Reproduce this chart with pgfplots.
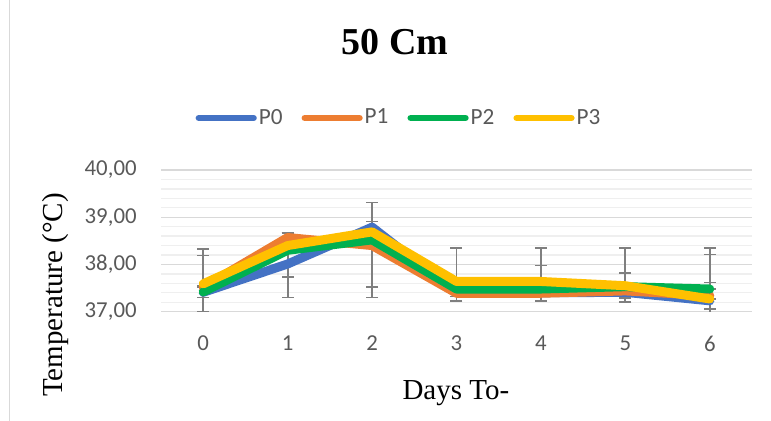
\documentclass[border=0pt]{standalone}
\usepackage{pgfplots}
\usepackage{pgfplotstable}
\pgfplotsset{compat=1.18}
\usepackage{fontspec}
\setmainfont{Carlito}
\newfontfamily\seriffont{Liberation Serif}
\definecolor{cP0}{HTML}{4472C4}
\definecolor{cP1}{HTML}{ED7D31}
\definecolor{cP2}{HTML}{00B050}
\definecolor{cP3}{HTML}{FFC000}
\definecolor{ebgray}{HTML}{7F7F7F}
\definecolor{gridmajor}{HTML}{D9D9D9}
\definecolor{gridminor}{HTML}{EFEFEF}
\definecolor{ticklabel}{HTML}{595959}

\pgfplotstableread{
x y ep em
0 37.41 0.92 0.92
1 38.01 0.66 0.71
2 38.79 0 0
3 37.40 0 0.18
4 37.40 0 0.18
5 37.41 0 0.21
6 37.23 0.39 0.30
}\Pzero
\pgfplotstableread{
x y ep em
0 37.52 0 0
1 38.57 0 0
2 38.40 0.91 1.10
3 37.39 0 0.07
4 37.39 0 0.07
5 37.44 0.18 0.15
6 37.34 0.87 0.28
}\Pone
\pgfplotstableread{
x y ep em
0 37.42 0.13 0.12
1 38.30 0 0.57
2 38.52 0.39 1.00
3 37.48 0 0
4 37.48 0.50 0
5 37.53 0.29 0
6 37.48 0 0
}\Ptwo
\pgfplotstableread{
x y ep em
0 37.59 0.60 0.60
1 38.40 0.27 0
2 38.69 0 0
3 37.64 0.71 0
4 37.64 0.71 0
5 37.55 0.80 0
6 37.27 1.08 0
}\Pthree

\pgfplotsset{
  ebar/.style={draw=none, mark=none, forget plot,
    error bars/.cd, y dir=both, y explicit, error mark=-,
    error bar style={draw=ebgray, line width=0.9pt, solid},
    error mark options={draw=ebgray, line width=0.9pt, mark size=3pt, rotate=90}},
  series/.style={#1, line width=4.5pt, line join=round, line cap=round, mark=none},
}

\begin{document}
\begin{tikzpicture}
\useasboundingbox (0,0) rectangle (385.5pt,210.5pt);
\draw[gridmajor, line width=0.7pt] (4.6pt,0) -- (4.6pt,210.5pt);
\begin{axis}[
  scale only axis,
  width=295.5pt, height=70.85pt,
  at={(80.5pt,54.65pt)}, anchor=south west,
  xmin=-0.5, xmax=6.5, ymin=37, ymax=40,
  xtick={0,1,2,3,4,5,6},
  ytick={37,38,39,40},
  minor y tick num=4,
  ymajorgrids, yminorgrids,
  major grid style={draw=gridmajor, line width=0.7pt},
  minor grid style={draw=gridminor, line width=0.7pt},
  axis line style={draw=none},
  tick style={draw=none},
  major tick length=0pt, minor tick length=0pt,
  tick label style={font=\fontsize{11.4}{13}\selectfont, text=ticklabel},
  yticklabel style={anchor=east, inner sep=0pt, xshift=-12pt,
    /pgf/number format/.cd, fixed, fixed zerofill, precision=2, use comma, assume math mode=true},
  xticklabel style={anchor=north, inner sep=0pt, yshift=-12pt,
    /pgf/number format/assume math mode=true},
  title={\seriffont\bfseries 50 Cm},
  title style={at={(rel axis cs:0.396,1.819)}, anchor=center, inner sep=0pt, font=\fontsize{19}{22}\selectfont},
  ylabel={\seriffont Temperature (°C)},
  ylabel style={at={(rel axis cs:-0.178,0.118)}, anchor=center, inner sep=0pt, font=\fontsize{14.5}{17}\selectfont},
  xlabel={\seriffont Days To-},
  xlabel style={at={(rel axis cs:0.499,-0.574)}, anchor=center, inner sep=0pt, font=\fontsize{14.5}{17}\selectfont},
  legend columns=4,
  legend style={at={(0.4027,1.367)}, anchor=center, draw=none, fill=none,
    font=\fontsize{11.6}{13}\selectfont, text=ticklabel,
    nodes={inner sep=1pt},
    /tikz/every even column/.append style={column sep=8.5pt}},
  legend image code/.code={\draw[#1, line width=3.2pt, line cap=round] (1.6pt,0pt) -- (29pt,0pt);},
]
% error bars first (behind the lines)
\addplot[ebar] table[x=x, y=y, y error plus=ep, y error minus=em] {\Pzero};
\addplot[ebar] table[x=x, y=y, y error plus=ep, y error minus=em] {\Pone};
\addplot[ebar] table[x=x, y=y, y error plus=ep, y error minus=em] {\Ptwo};
\addplot[ebar] table[x=x, y=y, y error plus=ep, y error minus=em] {\Pthree};
\addplot[series=cP0] table[x=x, y=y] {\Pzero};
\addlegendentry{P0}
\addplot[series=cP1] table[x=x, y=y] {\Pone};
\addlegendentry{P1}
\addplot[series=cP2] table[x=x, y=y] {\Ptwo};
\addlegendentry{P2}
\addplot[series=cP3] table[x=x, y=y] {\Pthree};
\addlegendentry{P3}
\end{axis}
\end{tikzpicture}
\end{document}
